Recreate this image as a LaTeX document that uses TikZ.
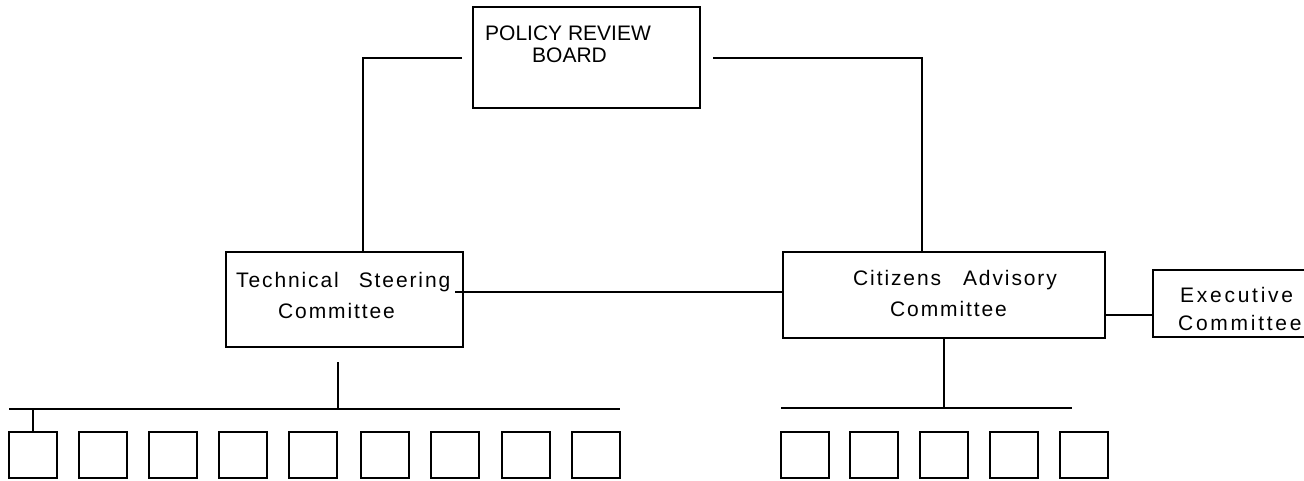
\documentclass[tikz,border=0pt]{standalone}
\usepackage{fontspec}
\setmainfont{Liberation Sans}
\newfontfamily\spacedsans[LetterSpace=9]{Liberation Sans}
\newfontfamily\widesans[LetterSpace=13]{Liberation Sans}
\begin{document}
\begin{tikzpicture}[x=1pt,y=-1pt,
  frame/.style={draw,line width=2pt,fill=white,inner sep=0pt,outer sep=0pt},
  unitbox/.style={frame,minimum width=48pt,minimum height=46pt},
  caption/.style={inner sep=0pt,anchor=base west,font=\spacedsans\fontsize{21}{25}\selectfont},
  widecaption/.style={inner sep=0pt,anchor=base west,font=\widesans\fontsize{21}{25}\selectfont},
  title/.style={inner sep=0pt,anchor=base west,font=\fontsize{21}{25}\selectfont},
  link/.style={line width=2pt}]
\useasboundingbox (0,0) rectangle (1304,480);
\clip (0,0) rectangle (1304,480);

% main boxes
\node[frame,minimum width=227pt,minimum height=101pt] (prb) at (586.5,57.5) {};
\node[frame,minimum width=237pt,minimum height=95pt] (tsc) at (344.5,299.5) {};
\node[frame,minimum width=322pt,minimum height=86pt] (cac) at (944,295) {};
\node[frame,minimum width=167pt,minimum height=67pt] (exec) at (1236.5,303.5) {};

% box labels
\node[title] (prb1) at (485,40) {POLICY REVIEW};
\node[title] (prb2) at (532,62) {BOARD};
\node[caption] (tsc1) at (236,287) {Technical\hspace{20pt}Steering};
\node[caption] (tsc2) at (278,318) {Committee};
\node[caption] (cac1) at (853,285) {Citizens\hspace{22pt}Advisory};
\node[caption] (cac2) at (890,316) {Committee};
\node[widecaption] (exec1) at (1180,302) {Executive};
\node[widecaption] (exec2) at (1178,330) {Committee};

% subcommittee boxes
\foreach \i/\cx in {1/33,2/103,3/173,4/243,5/313,6/385,7/455,8/526,9/596}
  \node[unitbox] (u\i) at (\cx,455) {};
\foreach \i/\cx in {1/805,2/874,3/944,4/1014,5/1084}
  \node[unitbox] (v\i) at (\cx,455) {};

% connectors from the board
\coordinate (pl) at (462,57.5);
\coordinate (pr) at (713,57.5);
\draw[link] (pl) -| ([xshift=18.5pt]tsc.north);
\draw[link] (pr) -| ([xshift=-22pt]cac.north);

% committee links
\coordinate (tc) at (455,292);
\draw[link] (tc) -- (tc -| cac.west);
\coordinate (ce) at (1105,315);
\draw[link] (ce -| cac.east) -- (ce -| exec.west);

% technical committee bus
\coordinate (td) at (338,362);
\coordinate (tb) at (338,409);
\coordinate (lbw) at (9,409);
\coordinate (lbe) at (620,409);
\draw[link] (td) -- (tb);
\draw[link] (lbw) -- (lbe);
\draw[link] (u1.north |- lbw) -- (u1.north);

% citizens committee bus
\coordinate (rb) at (944,408);
\coordinate (rbw) at (781,408);
\coordinate (rbe) at (1072,408);
\draw[link] (cac.south) -- (rb);
\draw[link] (rbw) -- (rbe);
\end{tikzpicture}
\end{document}
